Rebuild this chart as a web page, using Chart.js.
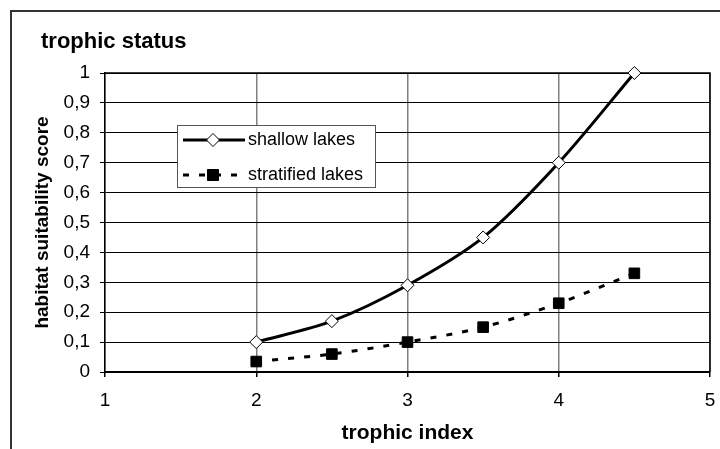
<!DOCTYPE html>
<html>
<head>
    <title>trophic status</title>
    <script src="https://cdn.jsdelivr.net/npm/chart.js"></script>
    <style>
        body { margin: 0; background: #fff; }
        #wrap { width: 720px; height: 449px; }
    </style>
</head>
<body>
    <div id="wrap"><canvas id="chart"></canvas></div>

    <script>
    const trophicIndex = [2, 2.5, 3, 3.5, 4, 4.5];
    const shallowLakes = [0.10, 0.17, 0.29, 0.45, 0.70, 1.00];
    const stratifiedLakes = [0.035, 0.06, 0.10, 0.15, 0.23, 0.33];
    const seriesNames = ['shallow lakes', 'stratified lakes'];

    function points(ys) {
        return trophicIndex.map((x, i) => ({ x: x, y: ys[i] }));
    }

    function commaLabel(v) {
        return String(Math.round(v * 10) / 10).replace('.', ',');
    }

    const FONT = '"Liberation Sans", Arial, sans-serif';

    // frame, title, plot border and the boxed legend inside the plot
    const extras = {
        id: 'extras',
        beforeDraw(chart) {
            const ctx = chart.ctx;
            ctx.save();
            ctx.strokeStyle = '#333';
            ctx.lineWidth = 2;
            ctx.beginPath();
            ctx.moveTo(11, 449);
            ctx.lineTo(11, 11);
            ctx.lineTo(720, 11);
            ctx.stroke();
            ctx.fillStyle = '#000';
            ctx.font = 'bold 22px ' + FONT;
            ctx.textBaseline = 'alphabetic';
            ctx.fillText('trophic status', 41, 48);
            ctx.restore();
        },
        beforeDatasetsDraw(chart) {
            const ctx = chart.ctx;
            const a = chart.chartArea;
            ctx.save();
            ctx.strokeStyle = '#000';
            ctx.lineWidth = 1.5;
            ctx.beginPath();
            ctx.moveTo(a.left, a.top);
            ctx.lineTo(a.right, a.top);
            ctx.lineTo(a.right, a.bottom);
            ctx.stroke();
            ctx.restore();
        },
        afterDraw(chart) {
            const ctx = chart.ctx;
            ctx.save();
            const bx = 177, by = 125, bw = 198, bh = 62;
            ctx.fillStyle = '#fff';
            ctx.fillRect(bx, by, bw, bh);
            ctx.strokeStyle = '#555';
            ctx.lineWidth = 1;
            ctx.strokeRect(bx + 0.5, by + 0.5, bw, bh);

            ctx.font = '18px ' + FONT;
            ctx.textBaseline = 'middle';
            chart.data.datasets.forEach((ds, i) => {
                const y = by + 15 + i * 35;
                ctx.strokeStyle = '#000';
                ctx.lineWidth = 3;
                ctx.setLineDash(ds.borderDash || []);
                ctx.beginPath();
                ctx.moveTo(bx + 6, y);
                ctx.lineTo(bx + 68, y);
                ctx.stroke();
                ctx.setLineDash([]);
                ctx.fillStyle = ds.pointBackgroundColor;
                ctx.strokeStyle = '#000';
                ctx.lineWidth = 1;
                ctx.beginPath();
                if (ds.pointStyle === 'rectRot') {
                    ctx.moveTo(bx + 36, y - 6.5);
                    ctx.lineTo(bx + 42.5, y);
                    ctx.lineTo(bx + 36, y + 6.5);
                    ctx.lineTo(bx + 29.5, y);
                    ctx.closePath();
                } else {
                    ctx.rect(bx + 30.5, y - 5.5, 11, 11);
                }
                ctx.fill();
                ctx.stroke();
                ctx.fillStyle = '#000';
                ctx.fillText(ds.label, bx + 71, y);
            });
            ctx.restore();
        }
    };

    const tickFont = { family: FONT, size: 19 };
    const titleFont = { family: FONT, size: 20, weight: 'bold' };

    new Chart(document.getElementById('chart'), {
        type: 'scatter',
        data: {
            datasets: [
                {
                    label: seriesNames[0],
                    data: points(shallowLakes),
                    showLine: true,
                    clip: false,
                    borderColor: '#000',
                    borderWidth: 3,
                    tension: 0.3,
                    pointStyle: 'rectRot',
                    pointRadius: 6.5,
                    pointBackgroundColor: '#fff',
                    pointBorderColor: '#000',
                    pointBorderWidth: 1
                },
                {
                    label: seriesNames[1],
                    data: points(stratifiedLakes),
                    showLine: true,
                    clip: false,
                    borderColor: '#000',
                    borderWidth: 3,
                    borderDash: [6, 10],
                    tension: 0.3,
                    pointStyle: 'rect',
                    pointRadius: 7.5,
                    pointBackgroundColor: '#000',
                    pointBorderColor: '#000',
                    pointBorderWidth: 1
                }
            ]
        },
        options: {
            responsive: true,
            maintainAspectRatio: false,
            animation: false,
            layout: { autoPadding: false, padding: { left: 24, right: 10, top: 73, bottom: 0 } },
            plugins: { legend: { display: false }, tooltip: { enabled: false } },
            scales: {
                x: {
                    type: 'linear',
                    min: 1,
                    max: 5,
                    ticks: { stepSize: 1, color: '#000', font: tickFont, padding: 12 },
                    grid: { color: '#808080', lineWidth: 1.5, tickLength: 5, tickColor: '#000' },
                    border: { color: '#000', width: 2 },
                    title: { display: true, text: 'trophic index', color: '#000', font: { ...titleFont, size: 21 }, padding: { top: 4, bottom: 3 } },
                    afterFit(scale) {
                        scale.height = 77;
                        scale.paddingLeft = 0;
                        scale.paddingRight = 0;
                    }
                },
                y: {
                    min: 0,
                    max: 1,
                    ticks: { stepSize: 0.1, color: '#000', font: tickFont, padding: 10, callback: commaLabel },
                    grid: { color: '#000', lineWidth: 1, tickLength: 5, tickColor: '#000' },
                    border: { color: '#000', width: 1.5 },
                    title: { display: true, text: 'habitat suitability score', color: '#000', font: { ...titleFont, size: 19 }, padding: { top: 7, bottom: 4 } },
                    afterFit(scale) {
                        scale.width = 81;
                        scale.paddingTop = 0;
                        scale.paddingBottom = 0;
                    }
                }
            }
        },
        plugins: [extras]
    });
    </script>
</body>
</html>
